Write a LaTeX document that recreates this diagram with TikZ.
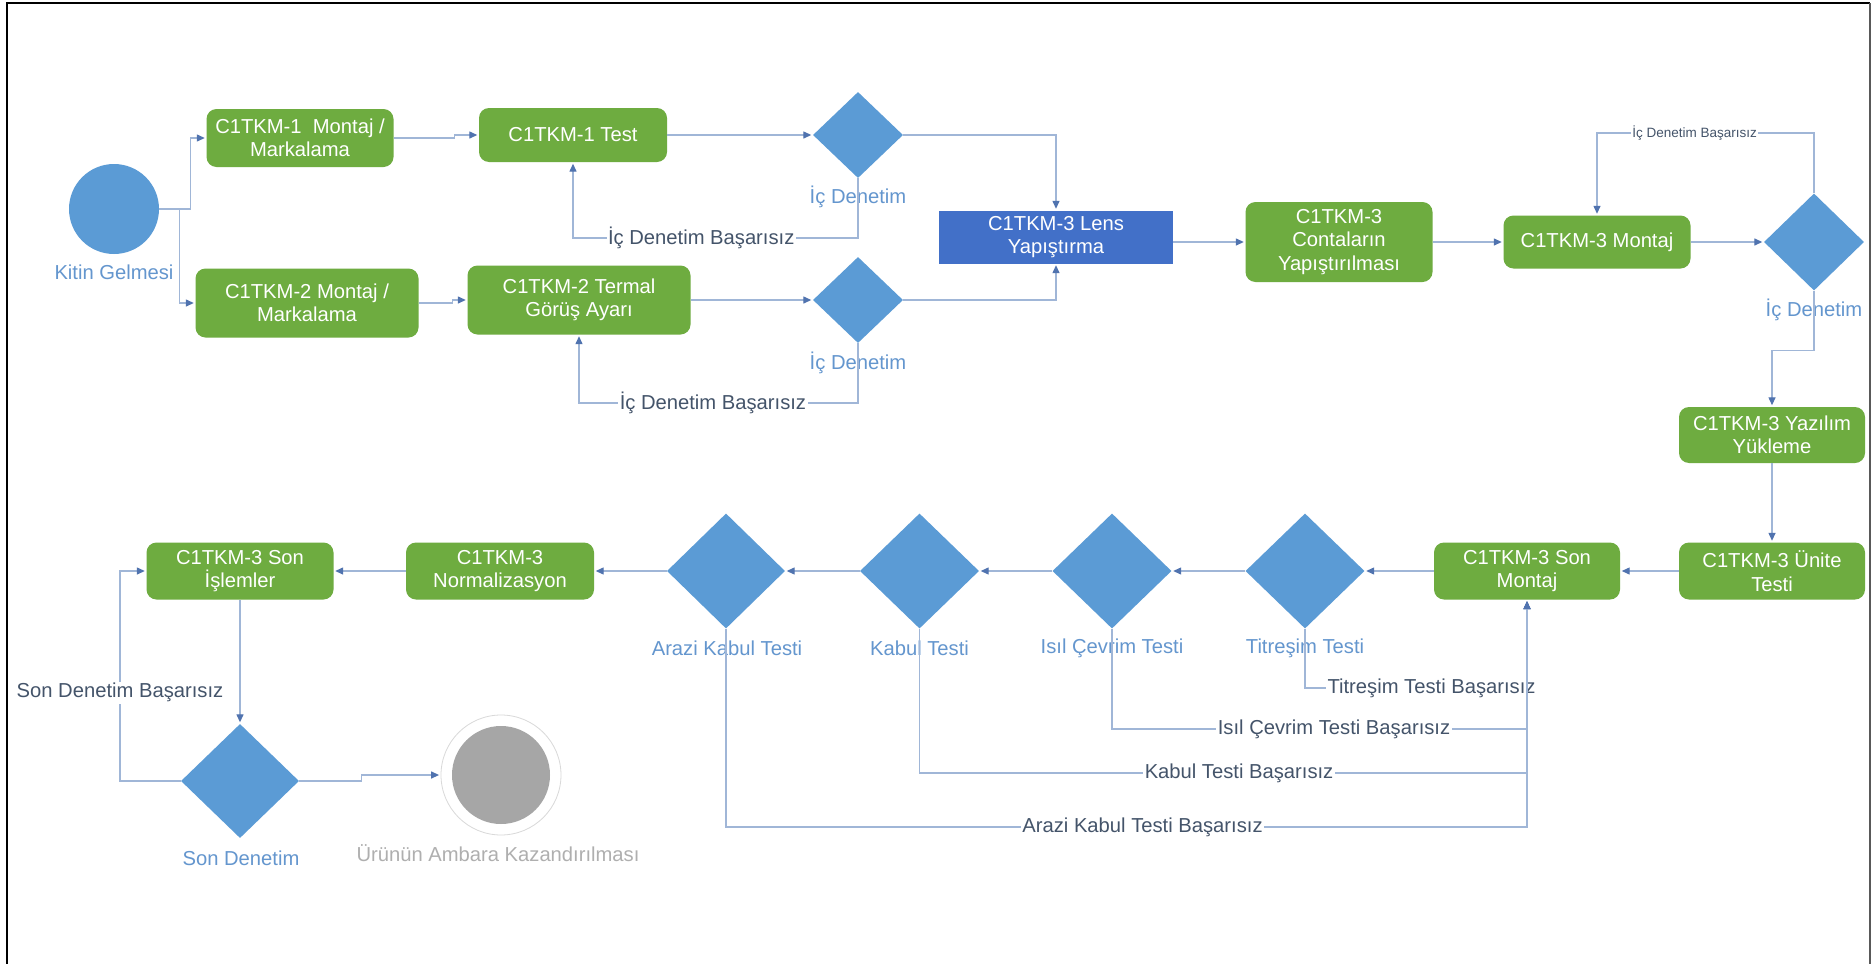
\documentclass[tikz,border=0pt]{standalone}
\usepackage{fontspec}
\setmainfont{Liberation Sans}
\usetikzlibrary{arrows.meta,shapes.geometric,calc}
\definecolor{boxgreen}{RGB}{110,172,64}
\definecolor{dblue}{RGB}{91,155,213}
\definecolor{lensblue}{RGB}{66,112,200}
\definecolor{lblue}{RGB}{100,150,206}
\definecolor{failtxt}{RGB}{68,84,106}
\definecolor{linec}{RGB}{160,182,215}
\definecolor{tipc}{RGB}{80,115,175}
\definecolor{endgray}{RGB}{166,166,166}
\definecolor{endtxt}{RGB}{175,175,175}

\begin{document}
\begin{tikzpicture}[x=1pt,y=-1pt,
  every node/.style={font=\fontsize{20.2}{23.5}\selectfont},
  stepbox/.style 2 args={rectangle, rounded corners=10pt, fill=boxgreen, text=white,
     align=center, inner sep=0pt, minimum width=#1, minimum height=#2},
  lensbox/.style 2 args={rectangle, fill=lensblue, text=white,
     align=center, inner sep=0pt, minimum width=#1, minimum height=#2},
  decide/.style 2 args={diamond, fill=dblue, inner sep=0pt, minimum width=#1, minimum height=#2},
  dlabel/.style={text=lblue, inner sep=0pt},
  fail/.style={text=failtxt, fill=white, inner sep=1.5pt},
  failsmall/.style={text=failtxt, fill=white, inner sep=1.5pt, font=\fontsize{13.5}{16}\selectfont},
  conn/.style={draw=linec, line width=1.3pt},
  flow/.style={conn, shorten >=1.5pt, -{Triangle[length=8pt,width=7pt,color=tipc]}},
]
% page and frame
\useasboundingbox (0,0) rectangle (1872,964);
\fill[white] (0,0) rectangle (1872,964);
\draw[black, line width=1.6pt] (7,964) -- (7,3) -- (1870,3);
\draw[black!65, line width=1.6pt] (1870,3) -- (1870,964);

% start
\node[circle, fill=dblue, minimum size=90pt, inner sep=0pt] (kit) at (114,209) {};
\node[dlabel] (kitl) at (114,272) {Kitin Gelmesi};

% upper line: assembly and tests
\node[stepbox={187}{58}] (m1) at (300,138) {C1TKM-1\ \ Montaj /\\Markalama};
\node[stepbox={188}{54}] (t1) at (573,135) {C1TKM-1 Test};
\node[stepbox={223}{69}] (m2) at (307,303) {C1TKM-2 Montaj /\\Markalama};
\node[stepbox={223}{69}] (t2) at (579,300) {C1TKM-2 Termal\\Görüş Ayarı};
\node[decide={90}{86}] (d1) at (858,135) {};
\node[dlabel] (d1l) at (858,197) {İç Denetim};
\node[decide={90}{86}] (d2) at (858,300) {};
\node[dlabel] (d2l) at (858,363) {İç Denetim};
\node[lensbox={234}{53}] (lens) at (1056,237) {C1TKM-3 Lens\\Yapıştırma};
\node[stepbox={187}{80}] (cont) at (1339,242) {C1TKM-3\\Contaların\\Yapıştırılması};
\node[stepbox={187}{53}] (mont) at (1597,242) {C1TKM-3 Montaj};
\node[decide={100}{97}] (d3) at (1814,242) {};
\node[dlabel] (d3l) at (1814,310) {İç Denetim};

% right column
\node[stepbox={186}{56}] (yaz) at (1772,435) {C1TKM-3 Yazılım\\Yükleme};
\node[stepbox={186}{57}] (un) at (1772,571) {C1TKM-3 Ünite\\Testi};

% lower line, right to left
\node[stepbox={186}{57}] (sonm) at (1527,571) {C1TKM-3 Son\\Montaj};
\node[decide={119}{115}] (d4) at (1305,571) {};
\node[dlabel] (d4l) at (1305,648) {Titreşim Testi};
\node[decide={119}{115}] (d5) at (1112,571) {};
\node[dlabel] (d5l) at (1112,648) {Isıl Çevrim Testi};
\node[decide={119}{115}] (d6) at (919.5,571) {};
\node[dlabel] (d6l) at (919.5,648) {Kabul Testi};
\node[decide={118}{115}] (d7) at (726,571) {};
\node[dlabel] (d7l) at (727,648) {Arazi Kabul Testi};
\node[stepbox={188}{57}] (norm) at (500,571) {C1TKM-3\\Normalizasyon};
\node[stepbox={187}{57}] (si) at (240,571) {C1TKM-3 Son\\İşlemler};
\node[decide={118}{114}] (d8) at (240,781) {};
\node[dlabel] (d8l) at (241,858) {Son Denetim};

% end state
\node[circle, draw=black!15, line width=0.8pt, fill=white, minimum size=120pt, inner sep=0pt] (endc) at (501,775) {};
\node[circle, fill=endgray, minimum size=98pt, inner sep=0pt] (endi) at (endc.center) {};
\node[text=endtxt, inner sep=0pt] (endl) at (498,853) {Ürünün Ambara Kazandırılması};

% connectors: upper part
\draw[flow] (kit.east) -- ++(31,0) |- (m1.west);
\draw[flow] (kit.east) -- ++(20,0) |- (m2.west);
\draw[flow] (m1.east) -- ++(61,0) |- (t1.west);
\draw[flow] (m2.east) -- ++(34,0) |- (t2.west);
\draw[flow] (t1.east) -- (d1.west);
\draw[flow] (t2.east) -- (d2.west);
\draw[flow] (d1.east) -| (lens.north);
\draw[flow] (d2.east) -| (lens.south);
\draw[flow] (d1.south) -- (d1.south |- 0,238)
  -- node[fail, pos=0.55] {İç Denetim Başarısız} (t1.south |- 0,238) -- (t1.south);
\draw[flow] (d2.south) -- (d2.south |- 0,403)
  -- node[fail, pos=0.52] {İç Denetim Başarısız} (t2.south |- 0,403) -- (t2.south);
\draw[flow] (lens.east |- cont.west) -- (cont.west);
\draw[flow] (cont.east) -- (mont.west);
\draw[flow] (mont.east) -- (d3.west);
\draw[flow] (d3.north) -- (d3.north |- 0,133)
  -- node[failsmall, pos=0.55] {İç Denetim Başarısız} (mont.north |- 0,133) -- (mont.north);
\draw[flow] (d3.south) -- ++(0,60) -| (yaz.north);
\draw[flow] (yaz.south) -- (un.north);

% connectors: lower part
\draw[flow] (un.west) -- (sonm.east);
\draw[flow] (sonm.west) -- (d4.east);
\draw[flow] (d4.west) -- (d5.east);
\draw[flow] (d5.west) -- (d6.east);
\draw[flow] (d6.west) -- (d7.east);
\draw[flow] (d7.west) -- (norm.east);
\draw[flow] (norm.west) -- (si.east);
\draw[flow] (si.south) -- (d8.north);
\draw[flow] (d4.south) -- (d4.south |- 0,688)
  -- node[fail, pos=0.57] {Titreşim Testi Başarısız} (sonm.south |- 0,688) -- (sonm.south);
\draw[flow] (d5.south) -- (d5.south |- 0,729)
  -- node[fail, pos=0.535] {Isıl Çevrim Testi Başarısız} (sonm.south |- 0,729) -- (sonm.south);
\draw[flow] (d6.south) -- (d6.south |- 0,773)
  -- node[fail, pos=0.526] {Kabul Testi Başarısız} (sonm.south |- 0,773) -- (sonm.south);
\draw[flow] (d7.south) -- (d7.south |- 0,827)
  -- node[fail, pos=0.52] {Arazi Kabul Testi Başarısız} (sonm.south |- 0,827) -- (sonm.south);
\draw[flow] (d8.west) -- (d8.west -| 120,0)
  -- node[fail, pos=0.42] {Son Denetim Başarısız} (si.west -| 120,0) -- (si.west);
\draw[flow] (d8.east) -- ++(62,0) |- (endc.west);
\end{tikzpicture}
\end{document}
